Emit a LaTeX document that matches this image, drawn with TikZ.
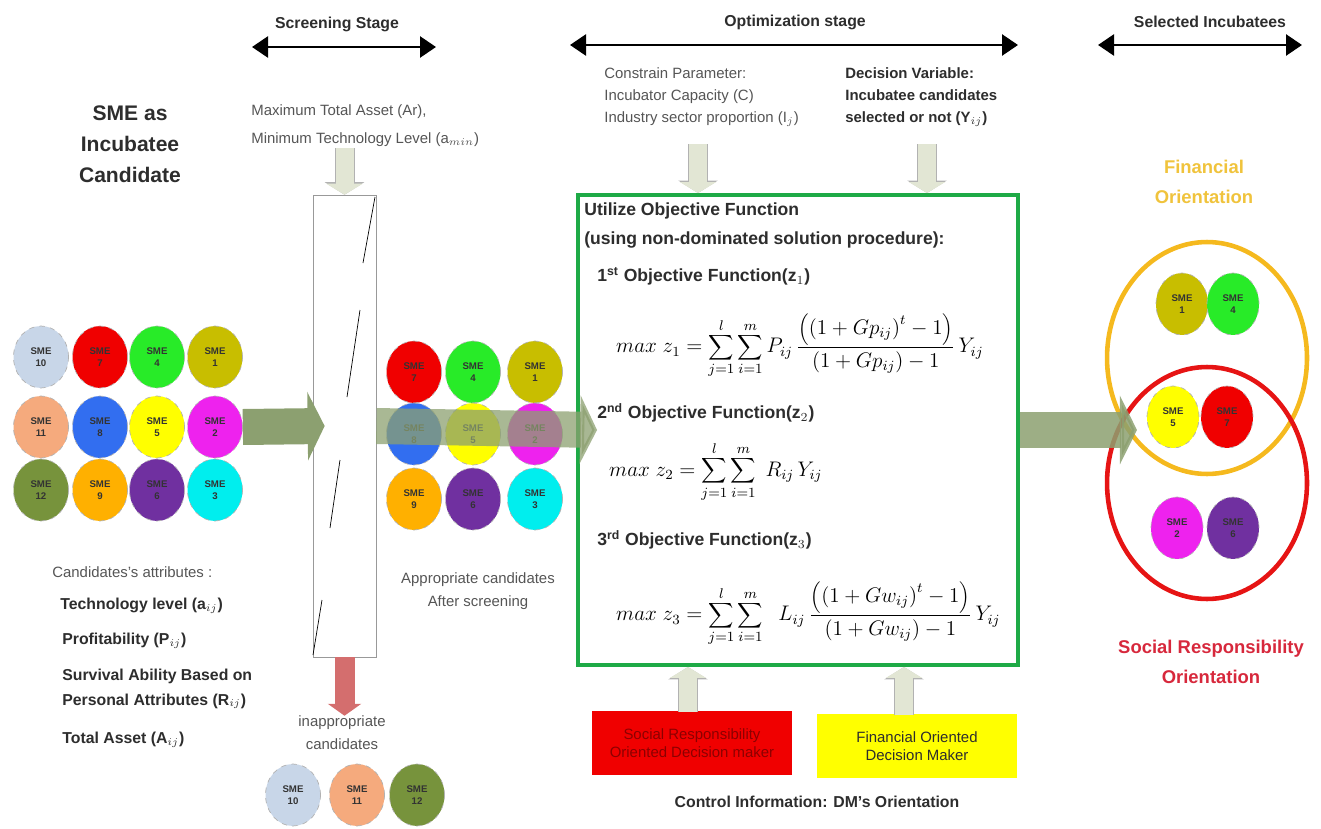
\documentclass[tikz,border=0pt]{standalone}
\usepackage{fontspec}
\setmainfont{Liberation Sans}
\usetikzlibrary{arrows.meta,shapes.geometric}

\definecolor{smeA}{RGB}{200,190,0}
\definecolor{smeB}{RGB}{238,34,238}
\definecolor{smeC}{RGB}{0,238,238}
\definecolor{smeD}{RGB}{40,235,40}
\definecolor{smeE}{RGB}{255,255,0}
\definecolor{smeF}{RGB}{112,48,160}
\definecolor{smeG}{RGB}{240,0,0}
\definecolor{smeH}{RGB}{50,110,240}
\definecolor{smeI}{RGB}{255,176,0}
\definecolor{smeJ}{RGB}{200,214,232}
\definecolor{smeK}{RGB}{245,170,125}
\definecolor{smeL}{RGB}{119,147,60}
\definecolor{flowgreen}{RGB}{140,160,112}
\definecolor{feedbeige}{RGB}{226,230,212}
\definecolor{rejectred}{RGB}{212,110,110}
\definecolor{boxgreen}{RGB}{30,170,70}
\definecolor{finorange}{RGB}{245,185,30}
\definecolor{fintext}{RGB}{240,195,60}
\definecolor{socred}{RGB}{230,20,20}
\definecolor{soctext}{RGB}{215,40,60}
\definecolor{greytext}{RGB}{85,85,85}
\definecolor{darktext}{RGB}{45,45,45}

\newcommand*{\labelfont}{\fontsize{8.5}{10}\selectfont}
\newcommand*{\eqfont}{\fontsize{11.5}{14}\selectfont}

\begin{document}
\begin{tikzpicture}
[
	x=0.02cm,
	y=-0.02cm,
	sme/.style={ellipse,draw=gray!60,dashed,inner sep=0pt,minimum width=1.1cm,minimum height=1.24cm,align=center,font=\fontsize{5.5}{6.5}\selectfont\bfseries,text=black!80},
	stage/.style={{Triangle[length=0.32cm,width=0.42cm]}-{Triangle[length=0.32cm,width=0.42cm]},line width=1.5pt},
	feed/.style={draw=feedbeige,line width=0.36cm,-{Triangle[length=0.22cm,width=0.72cm]},preaction={draw=gray!60,line width=0.4cm,-{Triangle[length=0.25cm,width=0.78cm]}}},
	flow/.style={draw=flowgreen,line width=0.72cm,-{Triangle[length=0.34cm,width=1.36cm]}},
	reject/.style={draw=rejectred,line width=0.4cm,-{Triangle[length=0.24cm,width=0.66cm]}},
	plain/.style={font=\labelfont,text=greytext,align=left,inner sep=0pt},
	heading/.style={font=\fontsize{9}{10}\selectfont\bfseries,text=darktext,inner sep=0pt},
	attr/.style={font=\fontsize{9}{11}\selectfont\bfseries,text=darktext,anchor=west,inner sep=0pt},
	objtitle/.style={font=\fontsize{10}{12}\selectfont\bfseries,text=darktext,anchor=west,inner sep=0pt},
	dmbox/.style={minimum width=4cm,minimum height=1.28cm,align=center,font=\labelfont,inner sep=0pt}
]

	\useasboundingbox (0,0) rectangle (1321,828);

	% stages
	\node[heading] (scrlbl) at (337,24) {Screening Stage};
	\coordinate (scrL) at (252,47);
	\coordinate (scrR) at (436,47);
	\draw[stage] (scrL) -- (scrR);
	\node[heading] (optlbl) at (795,22) {Optimization stage};
	\coordinate (optL) at (570,45);
	\coordinate (optR) at (1018,45);
	\draw[stage] (optL) -- (optR);
	\node[heading] (sellbl) at (1210,22) {Selected Incubatees};
	\coordinate (selL) at (1098,45);
	\coordinate (selR) at (1302,45);
	\draw[stage] (selL) -- (selR);

	\node[font=\fontsize{12}{17.5}\selectfont\bfseries,text=darktext,align=center] (smetitle) at (130,144) {SME as\\Incubatee\\Candidate};

	% screening
	\node[plain,font=\fontsize{8.5}{16}\selectfont,anchor=north west] (scrpar) at (251,104) {Maximum Total Asset (Ar),\\Minimum Technology Level (a$_{min}$)};
	\node[draw=gray!80,fill=white,minimum width=1.26cm,minimum height=9.24cm,inner sep=0pt] (filter) at (344.5,426) {};
	\draw (375,197) -- (363,263);
	\draw (360,310) -- (347,397);
	\draw (340,460) -- (330,528);
	\draw (322,600) -- (313,655);
	\coordinate (scrin) at (344.5,148);
	\draw[feed] (scrin) -- (filter.north);

	% candidates
	\node[sme,fill=smeJ] (c10) at (41,357) {SME\\10};
	\node[sme,fill=smeG] (c7) at (100,357) {SME\\7};
	\node[sme,fill=smeD] (c4) at (157,357) {SME\\4};
	\node[sme,fill=smeA] (c1) at (215,357) {SME\\1};
	\node[sme,fill=smeK] (c11) at (41,427) {SME\\11};
	\node[sme,fill=smeH] (c8) at (100,427) {SME\\8};
	\node[sme,fill=smeE] (c5) at (157,427) {SME\\5};
	\node[sme,fill=smeB] (c2) at (215,427) {SME\\2};
	\node[sme,fill=smeL] (c12) at (41,490) {SME\\12};
	\node[sme,fill=smeI] (c9) at (100,490) {SME\\9};
	\node[sme,fill=smeF] (c6) at (157,490) {SME\\6};
	\node[sme,fill=smeC] (c3) at (215,490) {SME\\3};
	\draw[flow] (c2.east) -- ([xshift=0.24cm]filter.west);

	\node[plain,anchor=west] (attrlbl) at (52,572) {Candidates's attributes :};
	\node[attr] (attr1) at (60,606) {Technology level (a$_{ij}$)};
	\node[attr] (attr2) at (62,641) {Profitability (P$_{ij}$)};
	\node[attr,align=left,font=\fontsize{9}{14}\selectfont\bfseries] (attr3) at (62,689) {Survival Ability Based on\\Personal Attributes (R$_{ij}$)};
	\node[attr] (attr4) at (62,740) {Total Asset (A$_{ij}$)};

	% after screening
	\node[sme,fill=smeG] (a7) at (414,372) {SME\\7};
	\node[sme,fill=smeD] (a4) at (473,372) {SME\\4};
	\node[sme,fill=smeA] (a1) at (535,372) {SME\\1};
	\node[sme,fill=smeH] (a8) at (414,434) {SME\\8};
	\node[sme,fill=smeE] (a5) at (473,434) {SME\\5};
	\node[sme,fill=smeB] (a2) at (535,434) {SME\\2};
	\node[sme,fill=smeI] (a9) at (414,499) {SME\\9};
	\node[sme,fill=smeF] (a6) at (473,499) {SME\\6};
	\node[sme,fill=smeC] (a3) at (535,499) {SME\\3};
	\node[plain,align=center,font=\fontsize{8.5}{13}\selectfont] (applbl) at (478,591) {Appropriate candidates\\After screening};

	\node[plain,align=center,font=\fontsize{8.5}{13}\selectfont] (inap) at (342,733) {inappropriate\\candidates};
	\draw[reject] (filter.south) -- (filter.south |- inap.north);
	\node[sme,fill=smeJ] (r10) at (293,795) {SME\\10};
	\node[sme,fill=smeK] (r11) at (357,795) {SME\\11};
	\node[sme,fill=smeL] (r12) at (417,795) {SME\\12};

	% optimization
	\node[plain,font=\fontsize{8.5}{12.5}\selectfont,anchor=north west] (cons) at (604,67) {Constrain Parameter:\\Incubator Capacity (C)\\Industry sector proportion (I$_j$)};
	\node[plain,font=\fontsize{8.5}{12.5}\selectfont\bfseries,text=darktext,anchor=north west] (decvar) at (845,67) {Decision Variable:\\Incubatee candidates\\selected or not (Y$_{ij}$)};
	\node[draw=boxgreen,line width=2.3pt,fill=white,minimum width=8.8cm,minimum height=9.4cm,inner sep=0pt] (obj) at (798,430) {};
	\draw[flow,opacity=0.75] (filter.east) -- ([xshift=0.42cm]obj.west);
	\coordinate (consin) at (698,144);
	\coordinate (decin) at (927,144);
	\draw[feed] (consin) -- (consin |- obj.north);
	\draw[feed] (decin) -- (decin |- obj.north);

	\node[objtitle] (objt1) at (584,211) {Utilize Objective Function};
	\node[objtitle] (objt2) at (584,240) {(using non-dominated solution procedure):};
	\node[objtitle] (f1lbl) at (597,276) {1\textsuperscript{st} Objective Function(z$_1$)};
	\node[anchor=west,font=\eqfont] (eq1) at (610,346) {$\displaystyle max\; z_1=\sum_{j=1}^{l}\sum_{i=1}^{m}P_{ij}\,\frac{\left(\left(1+Gp_{ij}\right)^{t}-1\right)}{\left(1+Gp_{ij}\right)-1}\,Y_{ij}$};
	\node[objtitle] (f2lbl) at (597,413) {2\textsuperscript{nd} Objective Function(z$_2$)};
	\node[anchor=west,font=\eqfont] (eq2) at (603,472) {$\displaystyle max\; z_2=\sum_{j=1}^{l}\sum_{i=1}^{m}\;R_{ij}\,Y_{ij}$};
	\node[objtitle] (f3lbl) at (597,540) {3\textsuperscript{rd} Objective Function(z$_3$)};
	\node[anchor=west,font=\eqfont] (eq3) at (610,614) {$\displaystyle max\; z_3=\sum_{j=1}^{l}\sum_{i=1}^{m}\;\;L_{ij}\,\frac{\left(\left(1+Gw_{ij}\right)^{t}-1\right)}{\left(1+Gw_{ij}\right)-1}\,Y_{ij}$};

	% decision makers
	\node[dmbox,fill=smeG,text=red!55!black] (dmsr) at (692,743) {Social Responsibility\\Oriented Decision maker};
	\node[dmbox,fill=smeE,text=darktext] (dmfin) at (917,746) {Financial Oriented\\Decision Maker};
	\coordinate (srout) at (688,712);
	\coordinate (finout) at (904,715);
	\draw[feed] (srout) -- (srout |- obj.south);
	\draw[feed] (finout) -- (finout |- obj.south);
	\node[heading] (ctrl) at (817,802) {Control Information: DM's Orientation};

	% selected incubatees
	\node[font=\fontsize{10.5}{17}\selectfont\bfseries,text=fintext,align=center] (finlbl) at (1204,182) {Financial\\Orientation};
	\node[ellipse,draw=finorange,line width=2.6pt,minimum width=4.0cm,minimum height=4.64cm] (fin) at (1207,358) {};
	\node[ellipse,draw=socred,line width=2.6pt,minimum width=4.0cm,minimum height=4.64cm] (soc) at (1207,483) {};
	\node[sme,fill=smeA,minimum width=1.04cm] (s1) at (1182,304) {SME\\1};
	\node[sme,fill=smeD,minimum width=1.04cm] (s4) at (1233,304) {SME\\4};
	\node[sme,fill=smeE,minimum width=1.04cm] (s5) at (1173,417) {SME\\5};
	\node[sme,fill=smeG,minimum width=1.04cm] (s7) at (1227,417) {SME\\7};
	\node[sme,fill=smeB,minimum width=1.04cm] (s2) at (1177,528) {SME\\2};
	\node[sme,fill=smeF,minimum width=1.04cm] (s6) at (1233,528) {SME\\6};
	\node[font=\fontsize{10.5}{17}\selectfont\bfseries,text=soctext,align=center] (soclbl) at (1211,662) {Social Responsibility\\Orientation};
	\draw[flow,opacity=0.85] (obj.east) -- ([xshift=2.34cm]obj.east);

\end{tikzpicture}
\end{document}
